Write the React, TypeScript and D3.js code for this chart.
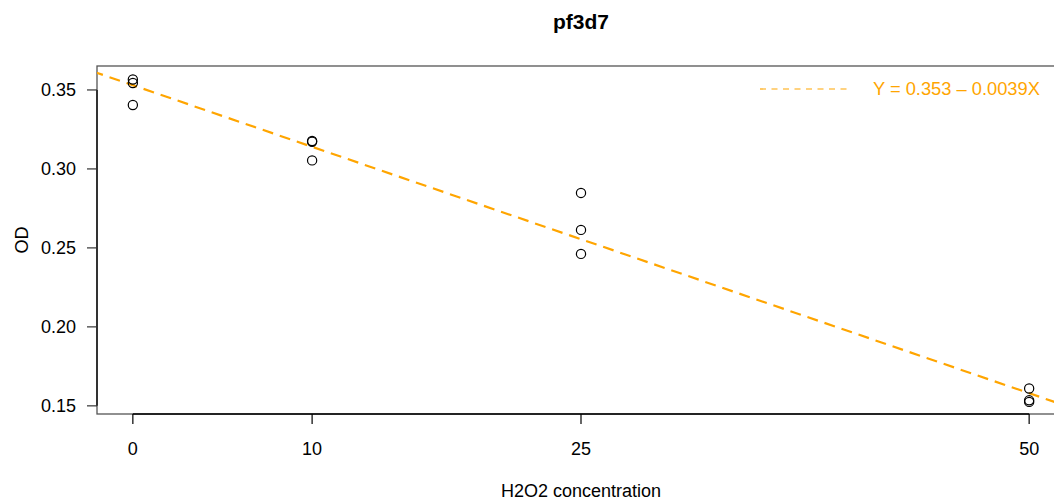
import React from "react";
import * as d3 from "d3";

const xValues = [0, 0, 0, 10, 10, 10, 25, 25, 25, 50, 50, 50];
const yValues = [0.3566, 0.3544, 0.3405, 0.3177, 0.3172, 0.3054, 0.2848, 0.2614, 0.2462, 0.1610, 0.1535, 0.1525];
const xTicks = [0, 10, 25, 50];
const yTicks = [0.15, 0.2, 0.25, 0.3, 0.35];
const intercept = 0.353;
const slope = -0.0039;
const title = "pf3d7";
const xLabel = "H2O2 concentration";
const yLabel = "OD";
const legendText = "Y = 0.353 \u2013 0.0039X";

const W = 1054;
const H = 501;
const left = 97;
const right = 1065;
const top = 66;
const bottom = 414;
const font = "'Liberation Sans', Arial, Helvetica, sans-serif";
const orange = "#FFA500";

export default function App() {
  const x = d3.scaleLinear().domain([-2, 52]).range([left, right]);
  const y = d3.scaleLinear().domain([0.14484, 0.36516]).range([bottom, top]);
  const x0 = -2, x1 = 52;
  return (
    <svg width={W} height={H} style={{ position: "absolute", left: 0, top: 0 }} fontFamily={font}>
      <defs>
        <clipPath id="plotclip">
          <rect x={left} y={top} width={right - left} height={bottom - top} />
        </clipPath>
      </defs>
      <rect x={0} y={0} width={W} height={H} fill="#fff" />
      <text x={(left + right) / 2} y={29} textAnchor="middle" fontSize={21} fontWeight="bold">{title}</text>
      <rect x={left} y={top} width={right - left} height={bottom - top} fill="none" stroke="#555" strokeWidth={1.3} />
      {/* y axis */}
      <line x1={left} x2={left} y1={y(yTicks[0])} y2={y(yTicks[yTicks.length - 1])} stroke="#000" strokeWidth={1.3} />
      {yTicks.map((t) => (
        <g key={"y" + t}>
          <line x1={left - 10} x2={left} y1={y(t)} y2={y(t)} stroke="#333" strokeWidth={1.2} />
          <text x={76} y={y(t)} dy="0.35em" textAnchor="end" fontSize={18}>{t.toFixed(2)}</text>
        </g>
      ))}
      {/* x axis */}
      <line x1={x(xTicks[0])} x2={x(xTicks[xTicks.length - 1])} y1={bottom} y2={bottom} stroke="#000" strokeWidth={1.3} />
      {xTicks.map((t) => (
        <g key={"x" + t}>
          <line x1={x(t)} x2={x(t)} y1={bottom} y2={bottom + 10} stroke="#000" strokeWidth={1.2} />
          <text x={x(t)} y={455} textAnchor="middle" fontSize={18}>{t}</text>
        </g>
      ))}
      <text x={(left + right) / 2} y={497} textAnchor="middle" fontSize={18}>{xLabel}</text>
      <text transform={`translate(28,${(top + bottom) / 2}) rotate(-90)`} textAnchor="middle" fontSize={18}>{yLabel}</text>
      {/* regression line */}
      <g clipPath="url(#plotclip)">
        <line x1={x(x0 - 5)} y1={y(intercept + slope * (x0 - 5))} x2={x(x1 + 5)} y2={y(intercept + slope * (x1 + 5))}
          stroke={orange} strokeWidth={2.2} strokeDasharray="11,7" />
      </g>
      {/* points */}
      {xValues.map((xv, i) => (
        <circle key={i} cx={x(xv)} cy={y(yValues[i])} r={4.6} fill="none" stroke="#000" strokeWidth={1.2} />
      ))}
      {/* legend */}
      <line x1={760} x2={852} y1={89} y2={89} stroke={orange} strokeWidth={1.2} strokeDasharray="6,5.5" />
      <text x={873} y={89} dy="0.35em" fontSize={18.3} fill={orange}>{legendText}</text>
    </svg>
  );
}
